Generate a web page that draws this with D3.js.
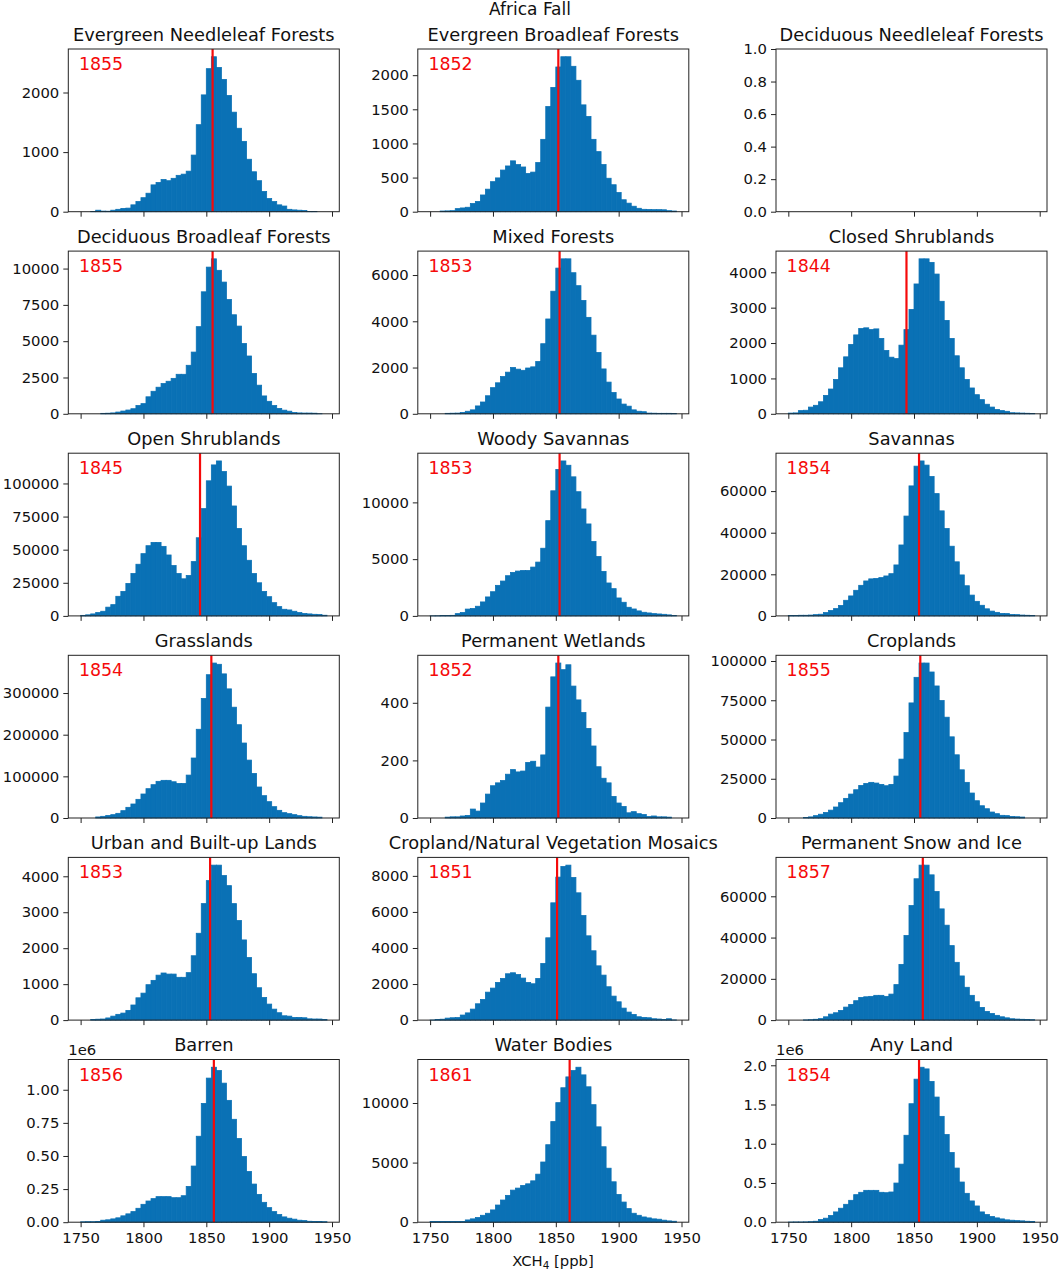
<!DOCTYPE html>
<html>
<head>
<meta charset="utf-8">
<script src="https://cdn.jsdelivr.net/npm/d3@7"></script>
<style>
  html, body { margin: 0; padding: 0; background: #fff; }
  text { font-family: "DejaVu Sans", sans-serif; fill: #111; }
</style>
</head>
<body>
<svg id="chart" width="1059" height="1272"></svg>
<script>
// histogram bins: 4 ppb wide starting at 1750
var binStart = 1750;
var binWidth = 4;

var titles = ["Evergreen Needleleaf Forests", "Evergreen Broadleaf Forests", "Deciduous Needleleaf Forests",
  "Deciduous Broadleaf Forests", "Mixed Forests", "Closed Shrublands",
  "Open Shrublands", "Woody Savannas", "Savannas",
  "Grasslands", "Permanent Wetlands", "Croplands",
  "Urban and Built-up Lands", "Cropland/Natural Vegetation Mosaics", "Permanent Snow and Ice",
  "Barren", "Water Bodies", "Any Land"];

// mean value of each panel, null when the panel has no data
var means = [1855, 1852, null, 1855, 1853, 1844, 1845, 1853, 1854, 1854, 1852, 1855, 1853, 1851, 1857, 1856, 1861, 1854];

var evergreenNeedle = [0,0,2,25,10,8,25,40,55,60,115,170,235,310,450,490,540,520,560,610,630,680,950,1460,1960,2400,2600,2420,2220,1950,1670,1400,1180,880,670,520,340,220,170,115,95,40,30,25,20,5,2,0,0];
var evergreenBroad = [0,0,10,12,15,45,55,65,120,150,245,330,440,495,610,670,745,690,655,560,580,720,1060,1540,1820,2120,2270,2270,2130,1925,1565,1395,1060,880,690,490,395,280,175,125,80,50,35,32,30,30,28,15,10];
var deciduousNeedle = [];
var deciduousBroad = [0,0,0,0,30,40,60,120,190,260,350,570,700,1170,1550,1830,2080,2240,2440,2720,2720,3340,4250,6000,8400,10100,10670,9880,9070,7870,6820,6040,4840,3980,2780,1970,1230,860,570,370,250,180,90,60,50,50,40,5,0];
var mixedForests = [0,0,0,20,25,30,60,110,170,340,510,780,1130,1340,1610,1800,2000,1930,1880,1980,2030,2260,3030,4100,5300,6300,6700,6700,6100,5540,4900,4170,3400,2650,1940,1370,920,640,420,330,170,110,90,30,25,20,20,20,10];
var closedShrub = [20,25,90,100,190,240,340,520,700,970,1300,1610,1960,2230,2410,2430,2380,2400,2130,1790,1600,1560,1940,2380,2950,3670,4380,4380,4280,3950,3180,2640,2130,1640,1300,970,730,540,400,270,190,120,90,70,30,25,20,15,10];
var openShrub = [400,800,1500,2500,3500,6600,8500,14800,18500,24500,32000,39000,47000,53000,55500,55500,52500,46000,38000,32000,28000,30500,41000,59000,81000,102000,114000,117000,109000,98000,83000,66000,53000,42000,32000,25000,18500,14500,10000,7000,5000,4500,3500,2500,1800,1500,1200,1000,500];
var woodySavanna = [5,10,40,40,50,200,300,600,650,850,1230,1670,2130,2690,3070,3540,3830,3950,4000,4000,4300,4740,5960,8390,11020,12900,13650,13270,12250,10940,9420,8100,6550,5230,3920,2900,2400,1580,1200,760,610,440,320,260,200,170,140,90,30];
var savannas = [200,200,300,300,400,600,800,1600,2600,3500,5000,7500,9600,12300,14700,16800,17800,18000,18400,19200,20300,24500,34100,48000,62500,72000,74500,72500,67000,58800,50500,42000,33500,26000,19700,14500,10000,7000,5100,3400,2300,1700,1200,1100,700,600,400,300,200];
var grasslands = [0,0,0,2500,4000,6000,8000,11200,17600,25600,33600,44800,57600,70400,80000,88000,90400,90400,87000,83000,83000,103000,144000,213000,287000,344000,372000,369000,346000,310000,266000,224000,180000,139000,107000,74400,53600,39200,27200,18400,12800,10400,8000,5600,4000,3000,2500,2000,0];
var wetlands = [0,0,0,3,4,4,7,9,31,24,52,83,112,122,130,152,168,160,163,193,197,177,219,385,490,538,515,532,458,410,366,311,250,178,138,122,75,52,40,18,22,15,12,5,7,4,4,3,0];
var croplands = [0,0,0,300,700,1500,2400,3500,5000,7000,9750,12500,15250,18000,20750,22000,22700,22250,21400,20550,21400,26700,37500,54400,73300,89600,98700,98700,93000,84100,74800,64200,51700,40250,30700,22700,15900,11000,7800,5900,3800,2750,1700,1500,1000,800,600,0,0];
var urban = [0,0,15,25,30,60,110,160,195,270,420,620,750,985,1105,1250,1310,1280,1280,1190,1190,1320,1790,2415,3240,3880,4310,4310,4020,3740,3240,2770,2230,1740,1290,900,630,445,305,205,120,110,75,75,65,35,30,30,15];
var cropMosaic = [5,30,50,110,130,140,280,400,610,905,1145,1550,1775,2090,2310,2570,2625,2530,2330,2090,2015,2310,3140,4565,6505,7930,8520,8595,7910,7060,5800,4675,3845,3010,2495,1850,1330,1015,665,445,315,185,150,130,75,60,35,75,10];
var snowIce = [0,0,0,100,200,400,700,1600,2900,3560,4700,6300,7600,9400,11000,11300,11500,12000,12000,11500,12600,17200,27000,41000,55500,68500,75100,75100,70400,62300,53900,46000,36100,28000,21400,15900,12000,8900,6150,4200,3200,2300,1600,1100,650,500,400,300,200];
var barren = [3000,4000,4000,5000,15000,18000,25000,33000,48000,63000,80000,105000,135000,160000,178000,193000,193000,193000,185000,185000,200000,270000,424000,649000,897000,1088000,1170000,1145000,1050000,920000,777000,632000,496000,383000,288000,210000,150000,110000,80000,58000,40000,30000,23000,15000,12000,7000,6000,5000,4000];
var waterBodies = [60,60,60,60,60,60,60,190,280,390,580,750,1030,1440,1860,2250,2690,2860,3080,3220,3470,4030,5050,6500,8440,10030,11280,12190,12720,13000,12360,11360,9860,8000,6330,4530,3390,2330,1690,1140,750,580,440,360,280,250,170,110,80];
var anyLand = [2000,3000,3000,4000,7000,12000,34000,51000,85000,131000,178000,228000,279000,351000,381000,406000,406000,406000,381000,376000,385000,499000,740000,1108000,1510000,1823000,1975000,1954000,1794000,1595000,1349000,1117000,888000,690000,512000,368000,271000,207000,131000,97000,72000,55000,42000,30000,25000,20000,17000,12000,8000];

var series = [evergreenNeedle, evergreenBroad, deciduousNeedle, deciduousBroad, mixedForests, closedShrub,
  openShrub, woodySavanna, savannas, grasslands, wetlands, croplands,
  urban, cropMosaic, snowIce, barren, waterBodies, anyLand];

var xTicks = [1750, 1800, 1850, 1900, 1950];
var yTicks = [
  [0, 1000, 2000],
  [0, 500, 1000, 1500, 2000],
  [0, 0.2, 0.4, 0.6, 0.8, 1],
  [0, 2500, 5000, 7500, 10000],
  [0, 2000, 4000, 6000],
  [0, 1000, 2000, 3000, 4000],
  [0, 25000, 50000, 75000, 100000],
  [0, 5000, 10000],
  [0, 20000, 40000, 60000],
  [0, 100000, 200000, 300000],
  [0, 200, 400],
  [0, 25000, 50000, 75000, 100000],
  [0, 1000, 2000, 3000, 4000],
  [0, 2000, 4000, 6000, 8000],
  [0, 20000, 40000, 60000],
  [0, 250000, 500000, 750000, 1000000],
  [0, 5000, 10000],
  [0, 500000, 1000000, 1500000, 2000000]
];

// tick label format, only these panels are not plain integers
var yFormats = { 2: function (d) { return d.toFixed(1); },
                 15: function (d) { return (d / 1e6).toFixed(2); },
                 17: function (d) { return (d / 1e6).toFixed(1); } };

var svg = d3.select("#chart");

var colLefts = [68.3, 417.8, 776];
var axW = 271;
var axH = 162.7;
var top0 = 49;
var rowPitch = 202.1;
var tickFont = 14.8;

svg.append("text")
  .attr("x", 530).attr("y", 15)
  .attr("text-anchor", "middle")
  .style("font-size", "17px")
  .text("Africa Fall");

series.forEach(function (values, p) {
  var col = p % 3;
  var row = Math.floor(p / 3);

  var g = svg.append("g")
    .attr("transform", "translate(" + colLefts[col] + "," + (top0 + row * rowPitch) + ")");

  //same x range on every panel, matplotlib 5% margin around the bins
  var x = d3.scaleLinear().domain([1740.2, 1955.8]).range([0, axW]);
  var ymax = values.length ? d3.max(values) * 1.05 : 1;
  var y = d3.scaleLinear().domain([0, ymax]).range([axH, 0]);

  g.selectAll("rect.bar")
    .data(values)
    .enter()
    .append("rect")
    .attr("class", "bar")
    .attr("x", function (d, i) { return x(binStart + i * binWidth); })
    .attr("y", function (d) { return y(d); })
    .attr("width", x(binWidth) - x(0))
    .attr("height", function (d) { return axH - y(d); })
    .attr("fill", "#0a71b5")
    .attr("stroke", "#0a71b5")
    .attr("stroke-width", 0.8);

  if (means[p] !== null) {
    g.append("line")
      .attr("x1", x(means[p])).attr("x2", x(means[p]))
      .attr("y1", 0).attr("y2", axH)
      .attr("stroke", "#f50a0a")
      .attr("stroke-width", 2.2);

    g.append("text")
      .attr("x", 10.6).attr("y", 21)
      .style("font-size", "17.4px")
      .style("fill", "#f50a0a")
      .text(means[p]);
  }

  var xAxis = d3.axisBottom(x).tickValues(xTicks).tickSize(5).tickPadding(5)
    .tickFormat(row < 5 ? "" : d3.format("d"));
  var xg = g.append("g").attr("transform", "translate(0," + axH + ")").call(xAxis);

  var yAxis = d3.axisLeft(y).tickValues(yTicks[p]).tickSize(5).tickPadding(4)
    .tickFormat(yFormats[p] || d3.format("d"));
  var yg = g.append("g").call(yAxis);

  [xg, yg].forEach(function (a) {
    a.select(".domain").remove();
    a.selectAll("line").attr("stroke", "#222").attr("stroke-width", 1);
    a.selectAll("text").style("font-size", tickFont + "px")
      .style("font-family", '"DejaVu Sans", sans-serif').attr("fill", "#111");
  });

  g.append("rect")
    .attr("width", axW).attr("height", axH)
    .attr("fill", "none")
    .attr("stroke", "#222")
    .attr("stroke-width", 1);

  g.append("text")
    .attr("x", axW / 2).attr("y", -8.5)
    .attr("text-anchor", "middle")
    .style("font-size", "17.8px")
    .text(titles[p]);

  if (p === 15 || p === 17) {
    g.append("text")
      .attr("x", 0).attr("y", -5)
      .style("font-size", tickFont + "px")
      .text("1e6");
  }
});

// x label under the middle column
var xl = svg.append("text")
  .attr("x", 553).attr("y", 1266)
  .attr("text-anchor", "middle")
  .style("font-size", "14.8px");
xl.append("tspan").text("XCH");
xl.append("tspan").attr("dy", 3).style("font-size", "10.4px").text("4");
xl.append("tspan").attr("dy", -3).text(" [ppb]");
</script>
</body>
</html>
